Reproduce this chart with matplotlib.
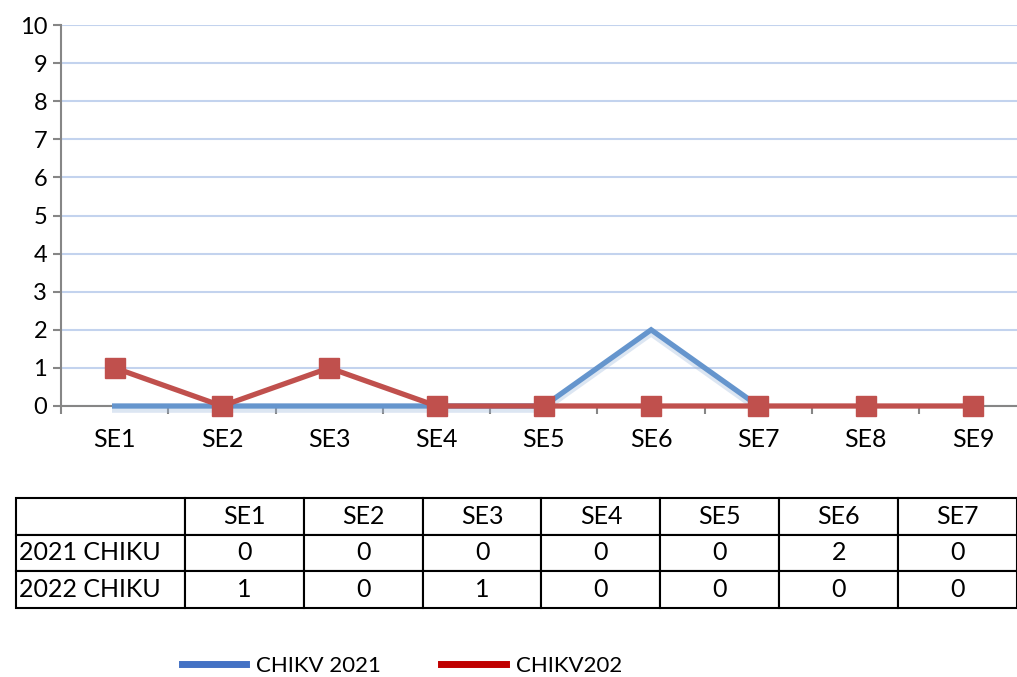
import numpy as np
import matplotlib
matplotlib.use('Agg')
import matplotlib.pyplot as plt
import matplotlib.patheffects as pe
from matplotlib.lines import Line2D

plt.rcParams['font.family'] = ['Lato', 'DejaVu Sans']

# data
weeks = ['SE1', 'SE2', 'SE3', 'SE4', 'SE5', 'SE6', 'SE7', 'SE8', 'SE9']
chikv_2021 = [0, 0, 0, 0, 0, 2, 0]
chikv_2022 = [1, 0, 1, 0, 0, 0, 0, 0, 0]

table_cols = ['SE1', 'SE2', 'SE3', 'SE4', 'SE5', 'SE6', 'SE7']
table_rows = ['2021 CHIKU', '2022 CHIKU']
table_2021 = [0, 0, 0, 0, 0, 2, 0]
table_2022 = [1, 0, 1, 0, 0, 0, 0]

legend_labels = ['CHIKV 2021', 'CHIKV202']

W, H = 1017, 677
fig = plt.figure(figsize=(W / 100, H / 100), dpi=100)
fig.patch.set_facecolor('white')

# main chart
ax = fig.add_axes([61 / W, 1 - 406 / H, (1017 - 61) / W, (406 - 25) / H])
x = np.arange(len(weeks))

ax.plot(x[:len(chikv_2021)], chikv_2021, color='#6595CD', lw=3.8,
        solid_joinstyle='miter', zorder=3, clip_on=False,
        path_effects=[pe.SimpleLineShadow(offset=(0, -3), shadow_color='#9DB8DC', alpha=0.35),
                      pe.Normal()])
ax.plot(x, chikv_2022, color='#C0504D', lw=3.8, marker='s', markersize=14,
        markeredgecolor='#C0504D', zorder=4, clip_on=False)

ax.set_xlim(-0.484, 8.41)
ax.set_ylim(0, 10)
ax.set_yticks(range(0, 11))
ax.set_xticks(x)
ax.set_xticklabels(weeks)
ax.set_xticks(np.arange(-0.5, 8.5, 1), minor=True)
ax.tick_params(axis='x', which='major', length=0, pad=16, labelsize=18)
ax.tick_params(axis='x', which='minor', length=6, width=1.5, color='#868686', direction='out')
ax.tick_params(axis='y', length=6, width=1.5, color='#868686', labelsize=17, pad=4)
ax.grid(axis='y', color='#C3D3EE', lw=1.5)
ax.set_axisbelow(True)
for s in ['top', 'right']:
    ax.spines[s].set_visible(False)
for s in ['left', 'bottom']:
    ax.spines[s].set_color('#868686')
    ax.spines[s].set_linewidth(1.5)

# data table
tax = fig.add_axes([16 / W, 1 - 608 / H, (1017 - 16) / W, (608 - 498) / H])
tax.axis('off')
cell_text = [[''] + table_cols,
             [table_rows[0]] + [str(v) for v in table_2021],
             [table_rows[1]] + [str(v) for v in table_2022]]
col_w = [169] + [119] * len(table_cols)
col_w = [c / sum(col_w) for c in col_w]
tbl = tax.table(cellText=cell_text, colWidths=col_w, bbox=[0, 0, 1, 1],
                cellLoc='center')
tbl.auto_set_font_size(False)
for (r, c), cell in tbl.get_celld().items():
    cell.set_edgecolor('black')
    cell.set_linewidth(1.5)
    cell.set_text_props(fontsize=18)
    if c == 0:
        cell.set_text_props(ha='left')
        cell._loc = 'left'
        cell.PAD = 0.02

# legend
handles = [Line2D([], [], color='#4472C4', lw=5),
           Line2D([], [], color='#C00000', lw=5)]
fig.legend(handles, legend_labels, loc='center', bbox_to_anchor=(402 / W, 1 - 666 / H),
           ncol=2, frameon=False, fontsize=16, handlelength=2.9, columnspacing=2.7,
           handletextpad=0.45)

fig.savefig('out.png', dpi=100, facecolor='white')
